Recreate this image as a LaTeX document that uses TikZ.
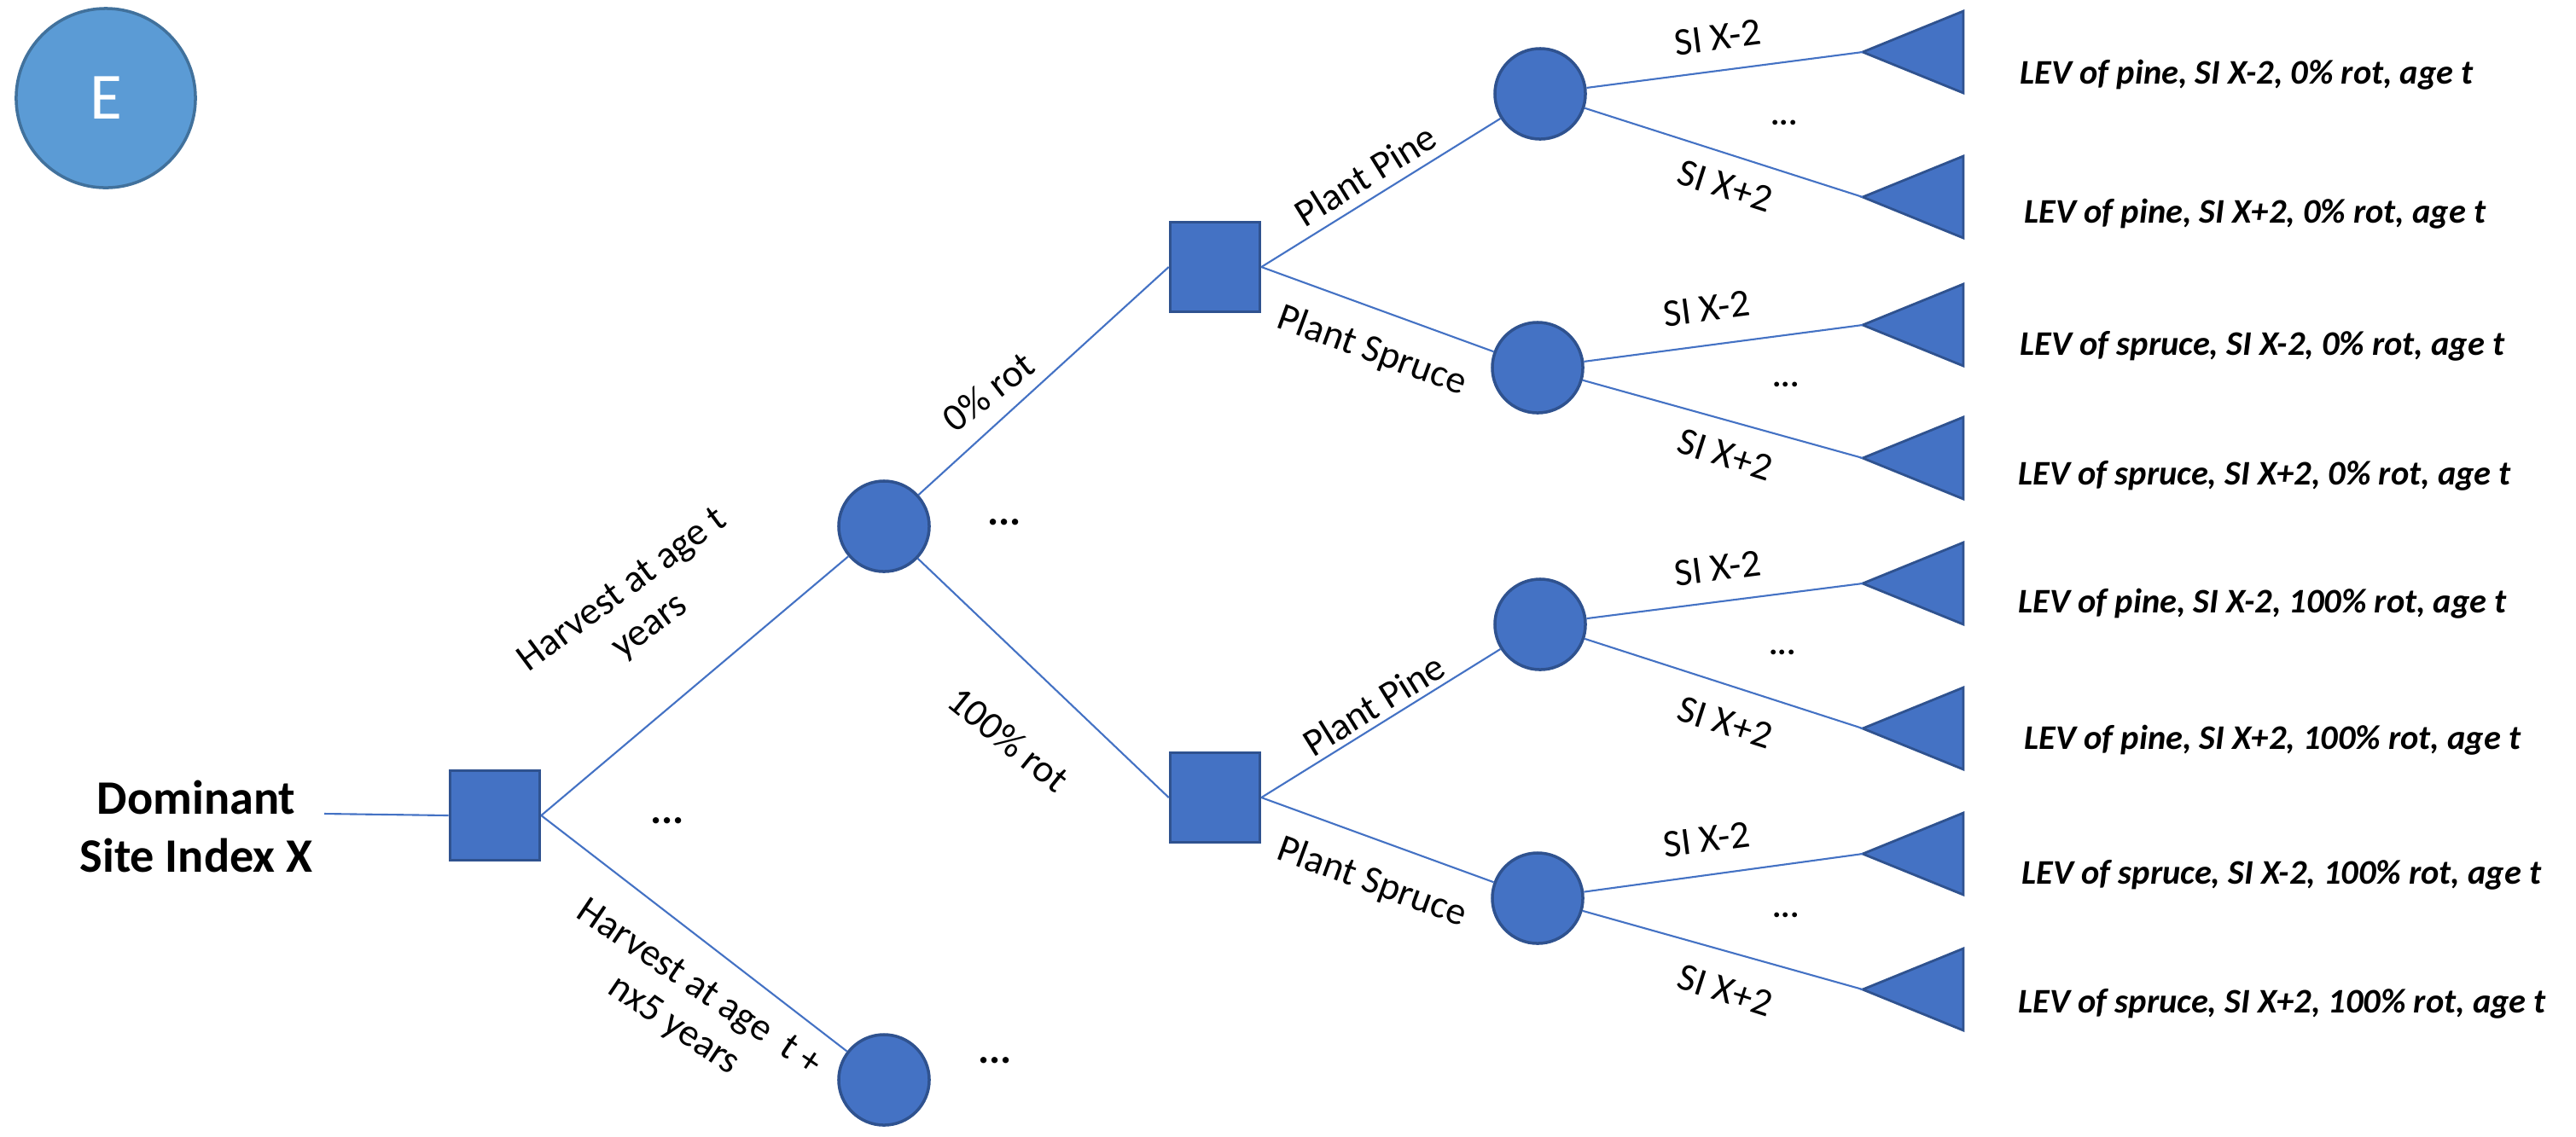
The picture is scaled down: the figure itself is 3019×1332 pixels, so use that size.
\documentclass[tikz,border=0pt]{standalone}
\usepackage{fontspec}
\setmainfont{Carlito}
\begin{document}
\begin{tikzpicture}[x=0.01cm,y=-0.01cm,
  dn/.style={draw=blue2,line width=1pt,fill=blue1,inner sep=0pt},
  sq/.style={dn,rectangle,minimum size=1.05cm},
  ci/.style={dn,circle,minimum size=1.06cm},
  ln/.style={draw=blue1,line width=0.6pt},
  lab/.style={font=\fontsize{13}{15}\selectfont,inner sep=1pt},
  lev/.style={font=\fontsize{11.5}{13}\selectfont\bfseries\itshape,anchor=west,inner sep=0pt},
  dots/.style={font=\fontsize{14}{16}\selectfont\bfseries}]
\definecolor{blue1}{HTML}{4472C4}
\definecolor{blue2}{HTML}{2F528F}
\definecolor{eblue}{HTML}{5B9BD5}
\definecolor{eborder}{HTML}{41719C}
\useasboundingbox (0,0) rectangle (3019,1332);
\node[circle,draw=eborder,line width=1pt,fill=eblue,minimum size=2.1cm,text=white,font=\fontsize{22}{24}\selectfont] (E) at (124,115) {E};
\node[align=center,font=\fontsize{16}{19.5}\selectfont\bfseries] (dom) at (230,969) {Dominant\\Site Index X};
\coordinate (domr) at (380,954);
\node[sq] (s0) at (580,956) {};
\node[ci] (m1) at (1036,617) {};
\node[ci] (m2) at (1036,1266) {};
\node[sq] (s1) at (1424,313) {};
\node[sq] (s2) at (1424,935) {};
\draw[ln] (domr) -- (s0.west);
\draw[ln] (s0.east) -- (m1);
\draw[ln] (s0.east) -- (m2);
\draw[ln] (m1) -- (s1.west);
\draw[ln] (m1) -- (s2.west);
\node[lab,rotate=36.6,align=center] (h1) at (746,714) {Harvest at age t\\years};
\node[lab,rotate=-34,align=center] (h2) at (804,1181) {Harvest at age\ \ t +\\nx5 years};
\node[lab,rotate=38] (r0) at (1158,459) {0\% rot};
\node[lab,rotate=-39] (r1) at (1182,867) {100\% rot};
\node[dots] (d1) at (1177,612) {...};
\node[dots] (d2) at (782,962) {...};
\node[dots] (d3) at (1166,1243) {...};
% circles
\node[ci] (c1) at (1805,110) {};
\node[ci] (c2) at (1802,431) {};
\node[ci] (c3) at (1805,732) {};
\node[ci] (c4) at (1802,1053) {};
\draw[ln] (s1.east) -- (c1);
\draw[ln] (s1.east) -- (c2);
\draw[ln] (s2.east) -- (c3);
\draw[ln] (s2.east) -- (c4);
\node[lab,rotate=31.8] (pp1) at (1600,205) {Plant Pine};
\node[lab,rotate=-20] (ps1) at (1608,412) {Plant Spruce};
\node[lab,rotate=31.8] (pp2) at (1610,826) {Plant Pine};
\node[lab,rotate=-20] (ps2) at (1608,1035) {Plant Spruce};
% triangles
\foreach \i/\y in {1/61,2/231,3/381,4/537,5/684,6/854,7/1001,8/1160}{
  \coordinate (t\i) at (2183,\y);
  \fill[blue1,draw=blue2,line width=0.8pt] (t\i) -- ++(118,-48) -- ++(0,96) -- cycle;
}
\foreach \c/\a/\b in {c1/t1/t2,c2/t3/t4,c3/t5/t6,c4/t7/t8}{
  \draw[ln] (\c) -- (\a);
  \draw[ln] (\c) -- (\b);
}
\foreach \n/\x/\y/\ya/\yb/\yd in {1/2013/42/217/146,2/2000/362/540/452,3/2013/665/848/762,4/2000/980/1165/1073}{}
\node[lab,rotate=7.4] (a1) at (2013,44) {SI X-2};
\node[lab,rotate=-17.7] (b1) at (2022,218) {SI X+2};
\node[lab,rotate=7.4] (a2) at (2000,362) {SI X-2};
\node[lab,rotate=-17.7] (b2) at (2022,533) {SI X+2};
\node[lab,rotate=7.4] (a3) at (2013,666) {SI X-2};
\node[lab,rotate=-17.7] (b3) at (2022,847) {SI X+2};
\node[lab,rotate=7.4] (a4) at (2000,984) {SI X-2};
\node[lab,rotate=-17.7] (b4) at (2022,1161) {SI X+2};
\node[font=\fontsize{11}{12}\selectfont\bfseries] (e1) at (2091,144) {...};
\node[font=\fontsize{11}{12}\selectfont\bfseries] (e2) at (2093,451) {...};
\node[font=\fontsize{11}{12}\selectfont\bfseries] (e3) at (2089,765) {...};
\node[font=\fontsize{11}{12}\selectfont\bfseries] (e4) at (2093,1073) {...};
\node[lev] (l1) at (2367,88) {LEV of pine, SI X-2, 0\% rot, age t};
\node[lev] (l2) at (2372,251) {LEV of pine, SI X+2, 0\% rot, age t};
\node[lev] (l3) at (2367,406) {LEV of spruce, SI X-2, 0\% rot, age t};
\node[lev] (l4) at (2365,558) {LEV of spruce, SI X+2, 0\% rot, age t};
\node[lev] (l5) at (2365,708) {LEV of pine, SI X-2, 100\% rot, age t};
\node[lev] (l6) at (2372,868) {LEV of pine, SI X+2, 100\% rot, age t};
\node[lev] (l7) at (2369,1026) {LEV of spruce, SI X-2, 100\% rot, age t};
\node[lev] (l8) at (2365,1177) {LEV of spruce, SI X+2, 100\% rot, age t};
\end{tikzpicture}
\end{document}
